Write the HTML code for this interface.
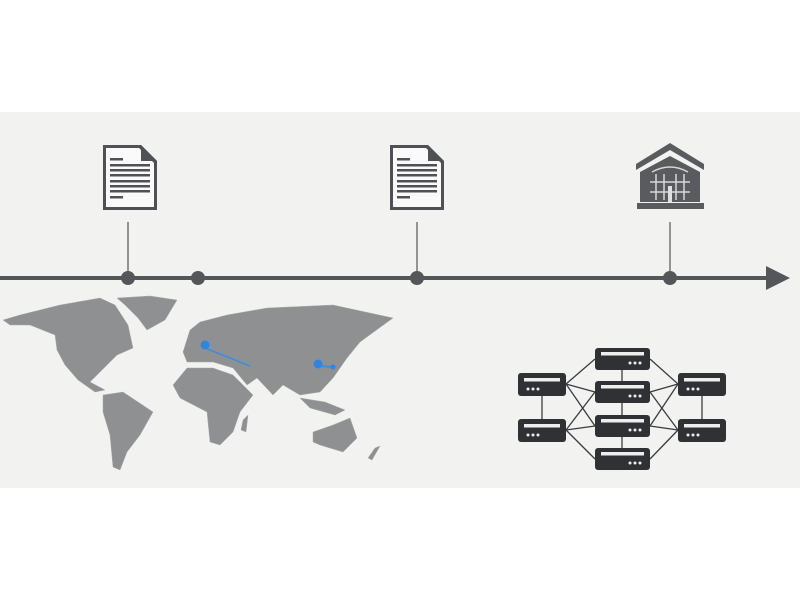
<!DOCTYPE html>
<html><head><style>
body{margin:0;width:800px;height:600px;background:#fff;overflow:hidden}
</style></head><body>
<svg width="800" height="600" xmlns="http://www.w3.org/2000/svg">
<rect x="0" y="112" width="800" height="376" fill="#f2f2f0"/>
<!-- timeline -->
<line x1="0" y1="278" x2="772" y2="278" stroke="#555659" stroke-width="4"/>
<polygon points="766,266 790,278 766,290" fill="#555659"/>
<g stroke="#555659" stroke-width="1.2">
<line x1="128" y1="222" x2="128" y2="272"/><line x1="417" y1="222" x2="417" y2="272"/><line x1="670" y1="222" x2="670" y2="272"/>
</g>
<g fill="#555659"><circle cx="128" cy="278" r="7"/><circle cx="198" cy="278" r="7"/><circle cx="417" cy="278" r="7"/><circle cx="670" cy="278" r="7"/></g>
<!-- docs -->
<g id="doc">
<path d="M103,145 H141 L157,161 V210 H103 Z" fill="#505154" />
<path d="M106,148 H139 L154,163 V207 H106 Z" fill="#fafafa"/>
<path d="M141,145 V161 H157 Z" fill="#505154"/>
<g fill="#505154"><rect x="110" y="158" width="13" height="2.5"/><rect x="110" y="164" width="40" height="2.5"/><rect x="110" y="169" width="40" height="2.5"/><rect x="110" y="174" width="40" height="2.5"/><rect x="110" y="180" width="40" height="2.5"/><rect x="110" y="185" width="40" height="2.5"/><rect x="110" y="190" width="40" height="2.5"/><rect x="110" y="196" width="13" height="2.5"/></g>
</g>
<use href="#doc" x="287"/>
<!-- house -->
<g fill="#5a5b5e">
<polygon points="670,143 704,164 704,170 670,150 636,170 636,164"/>
<polygon points="670,156 700,172 700,202 640,202 640,172"/>
<rect x="637" y="203" width="67" height="6"/>
</g>
<g stroke="#d8d8d8" stroke-width="1.5" fill="none">
<path d="M652,172 Q670,162 688,172"/><line x1="656" y1="174" x2="656" y2="200"/><line x1="684" y1="174" x2="684" y2="200"/>
<line x1="650" y1="182" x2="690" y2="182"/><line x1="650" y1="192" x2="690" y2="192"/><line x1="664" y1="174" x2="664" y2="200"/><line x1="676" y1="174" x2="676" y2="200"/>
</g>
<rect x="668" y="186" width="4" height="16" fill="#e0e0e0"/>
<!-- map -->
<g fill="#8f9092" stroke="#a9aaab" stroke-width="0.5">
<polygon points="3,320 20,315 60,305 100,298 115,305 128,325 133,348 117,355 100,372 90,382 105,390 95,392 78,380 65,365 57,350 55,335 30,325 10,325"/>
<polygon points="117,298 150,296 177,300 165,320 147,330 138,318 125,305"/>
<polygon points="103,395 123,392 153,412 140,435 127,452 120,470 113,467 110,435 103,412"/>
<polygon points="183,352 190,330 200,322 227,315 267,308 333,305 393,318 360,342 347,358 333,378 320,392 300,395 283,385 273,395 257,378 247,385 233,368 213,362 187,362"/>
<polygon points="173,385 187,368 213,368 233,375 253,395 240,412 233,432 220,445 210,442 207,412 180,398"/>
<polygon points="313,432 333,425 350,418 357,438 343,452 320,445 313,442"/>
<polygon points="300,398 325,402 345,410 335,415 310,408"/>
<polygon points="243,420 248,415 246,432 241,430"/>
<polygon points="375,448 380,446 372,460 368,458"/>
</g>
<polyline points="205,348 250,366" stroke="#3a8ee0" stroke-width="1.5" fill="none"/>
<line x1="318" y1="366" x2="333" y2="367" stroke="#3a8ee0" stroke-width="2"/>
<g fill="#2f86e0"><circle cx="205" cy="345" r="4.5"/><circle cx="318" cy="364" r="4.5"/><circle cx="333" cy="367" r="2.5"/></g>
<!-- network -->
<g stroke="#3a3c40" stroke-width="1.3">
<line x1="566" y1="384" x2="595" y2="359"/><line x1="566" y1="384" x2="595" y2="392"/><line x1="566" y1="384" x2="595" y2="426"/>
<line x1="566" y1="430" x2="595" y2="392"/><line x1="566" y1="430" x2="595" y2="426"/><line x1="566" y1="430" x2="595" y2="459"/>
<line x1="678" y1="384" x2="650" y2="359"/><line x1="678" y1="384" x2="650" y2="392"/><line x1="678" y1="384" x2="650" y2="426"/>
<line x1="678" y1="430" x2="650" y2="392"/><line x1="678" y1="430" x2="650" y2="426"/><line x1="678" y1="430" x2="650" y2="459"/>
<line x1="542" y1="396" x2="542" y2="419"/><line x1="702" y1="396" x2="702" y2="419"/><line x1="622" y1="360" x2="622" y2="460"/>
</g>
<g id="srv">
<rect x="518" y="373" width="48" height="23" rx="3" fill="#2f3135"/>
<rect x="524" y="378" width="36" height="3.5" fill="#eee"/>
<g fill="#eee"><circle cx="528" cy="389" r="1.5"/><circle cx="533" cy="389" r="1.5"/><circle cx="538" cy="389" r="1.5"/></g>
</g>
<use href="#srv" y="46"/><use href="#srv" x="160"/><use href="#srv" x="160" y="46"/>
<g id="cs">
<rect x="595" y="348" width="55" height="22" rx="3" fill="#2f3135"/>
<rect x="601" y="352" width="43" height="3.5" fill="#eee"/>
<g fill="#eee"><circle cx="630" cy="363" r="1.5"/><circle cx="635" cy="363" r="1.5"/><circle cx="640" cy="363" r="1.5"/></g>
</g>
<use href="#cs" y="33"/><use href="#cs" y="67"/><use href="#cs" y="100"/>
</svg>
</body></html>
